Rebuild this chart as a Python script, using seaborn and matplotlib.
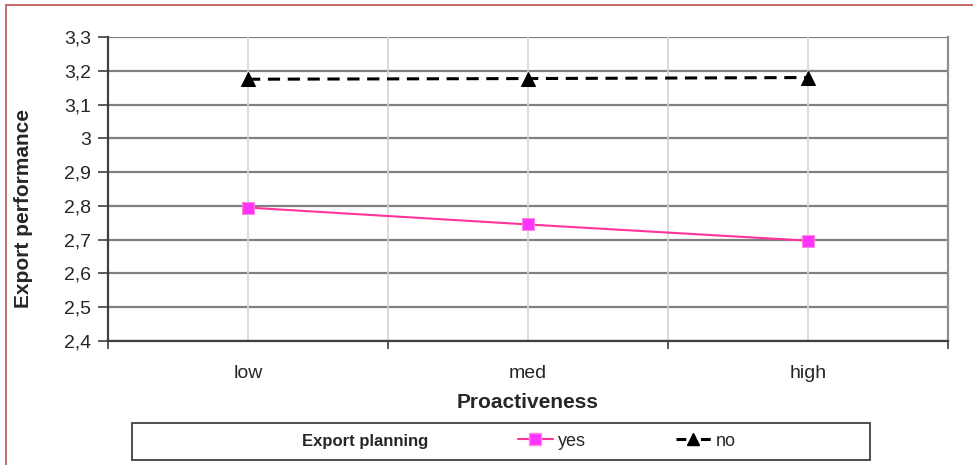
import pandas as pd
import numpy as np
import matplotlib.pyplot as plt
import seaborn as sns
from matplotlib.lines import Line2D
from matplotlib.patches import Rectangle
from matplotlib.ticker import FuncFormatter

# values
levels = ["low", "med", "high"]
yes_vals = [2.795, 2.745, 2.697]
no_vals = [3.175, 3.177, 3.180]
y_ticks = [2.4, 2.5, 2.6, 2.7, 2.8, 2.9, 3.0, 3.1, 3.2, 3.3]

df = pd.DataFrame({
    "Proactiveness": levels * 2,
    "perf": yes_vals + no_vals,
    "planning": ["yes"] * 3 + ["no"] * 3,
})
df["pos"] = df["Proactiveness"].map({l: i for i, l in enumerate(levels)})

sns.set_style("white")
plt.rcParams['font.family'] = ['Liberation Sans', 'DejaVu Sans']

fig = plt.figure(figsize=(9.73, 4.65), dpi=100)
ax = fig.add_axes([108 / 973, 1 - 341 / 465, 840 / 973, 304 / 465])

sns.lineplot(data=df, x="pos", y="perf", hue="planning", style="planning",
             palette={"yes": "#ff3399", "no": "black"},
             markers={"yes": "s", "no": "^"},
             dashes={"yes": "", "no": (4, 2.5)},
             linewidth=1.8, markersize=9, ax=ax, legend=False)

for ln in ax.lines:
    if ln.get_marker() == "s":
        ln.set_markerfacecolor("#ff33ff")
        ln.set_markeredgecolor("#ff88dd")
        ln.set_linewidth(1.5)
    else:
        ln.set_markerfacecolor("black")
        ln.set_markeredgecolor("black")
        ln.set_markersize(10)
        ln.set_linewidth(2.2)

ax.set_xlim(-0.5, 2.5)
ax.set_ylim(2.4, 3.3)
ax.set_yticks(y_ticks)
ax.yaxis.set_major_formatter(FuncFormatter(lambda v, p: f"{v:g}".replace(".", ",")))

# gridlines
for v in y_ticks:
    ax.axhline(v, color="#808080", lw=1.6, zorder=0)
for x in [0, 0.5, 1, 1.5, 2]:
    ax.axvline(x, color="#d4d4d4", lw=1.2, zorder=0)

ax.set_xticks([-0.5, 0.5, 1.5, 2.5])
ax.set_xticklabels([])
ax.set_xticks(range(len(levels)), minor=True)
ax.set_xticklabels(levels, minor=True, fontsize=14)
ax.tick_params(axis="x", which="major", direction="out", length=6, width=1.2, color="#404040")
ax.tick_params(axis="x", which="minor", length=0, pad=17)
ax.tick_params(axis="y", direction="out", length=7, width=1.2, color="#404040", labelsize=14, pad=5)
ax.yaxis.set_ticks_position("left")
ax.xaxis.set_ticks_position("bottom")

for side in ["left", "bottom"]:
    ax.spines[side].set_color("#404040")
    ax.spines[side].set_linewidth(1.6)
ax.spines["right"].set_color("#909090")
ax.spines["right"].set_linewidth(1.6)
ax.spines["top"].set_visible(False)

ax.set_xlabel("Proactiveness", fontsize=15, fontweight="bold", labelpad=8)
ax.set_ylabel("Export performance", fontsize=15, fontweight="bold")
ax.yaxis.set_label_coords(-0.089, 0.4375)

# legend box
fig.patches.append(Rectangle((132 / 973, 1 - 460 / 465), 738 / 973, 37 / 465,
                             transform=fig.transFigure, fill=False,
                             edgecolor="#404040", lw=1.3))
handles = [
    Line2D([], [], color="none"),
    Line2D([], [], color="#ff3399", marker="s", markerfacecolor="#ff33ff",
           markeredgecolor="#ff88dd", markersize=9, lw=1.5),
    Line2D([], [], color="black", marker="^", markersize=9, lw=2.2, ls=(0, (3.2, 4.8))),
]
labels = ["Export planning", "yes", "no"]
leg = fig.legend(handles, labels, loc="center",
                 bbox_to_anchor=(499 / 973, 1 - 441 / 465),
                 ncol=3, fontsize=13, frameon=False,
                 handlelength=1.9, handletextpad=0.3, columnspacing=5.0)
leg.get_texts()[0].set_fontweight("bold")
leg.get_texts()[0].set_fontsize(12)

# outer reddish border
fig.patches.append(Rectangle((6 / 973, -0.1), 1.2, 1.1 - 5 / 465, transform=fig.transFigure,
                             fill=False, edgecolor="#c06060", lw=1.3))

fig.savefig("out.png", dpi=100)
